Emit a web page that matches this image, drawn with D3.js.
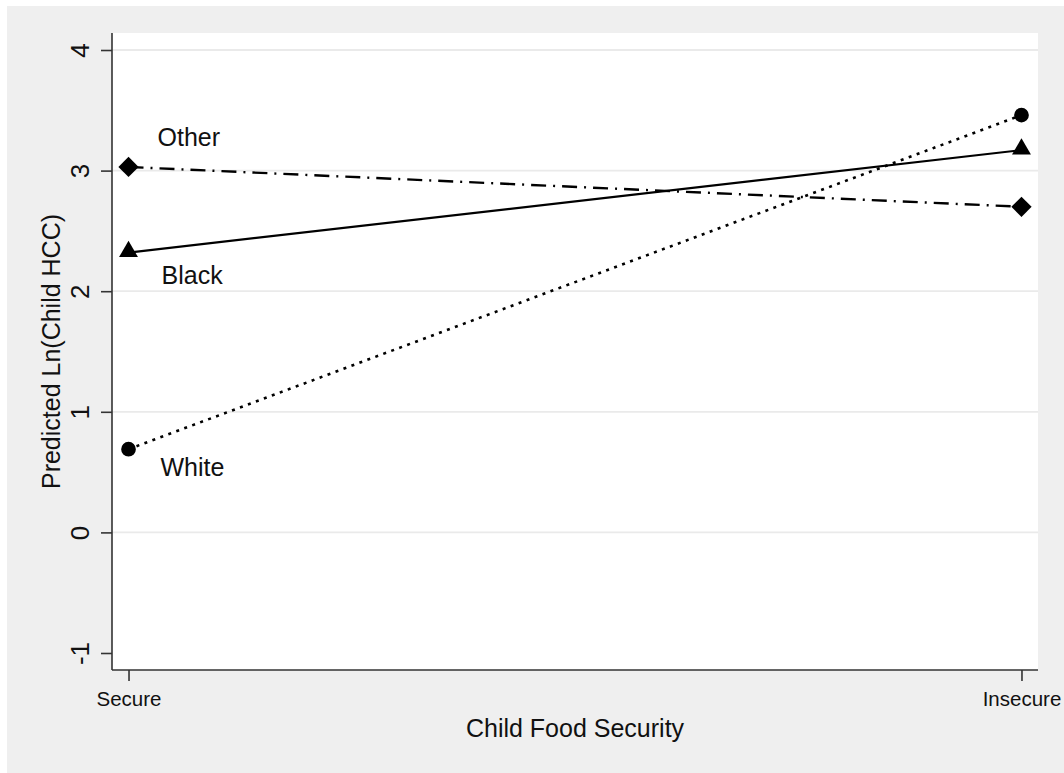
<!DOCTYPE html>
<html>
<head>
<meta charset="utf-8">
<script src="https://cdn.jsdelivr.net/npm/d3@7"></script>
<style>
  body { margin: 0; background: #fff; }
  text { font-family: "Liberation Sans", Arial, sans-serif; fill: #111; }
</style>
</head>
<body>
<svg width="1064" height="773"></svg>
<script>
// categories on the x axis
var foodSecurity = ["Secure", "Insecure"];
// predicted Ln(child HCC) by race
var white = [0.69, 3.46];
var black = [2.32, 3.17];
var other = [3.03, 2.70];
var yTicks = [-1, 0, 1, 2, 3, 4];
var gridTicks = [0, 1, 2, 3, 4];

var series = [
  {name: "White", values: white, dash: "3,5.5", width: 2.6, marker: d3.symbolCircle, size: 170, rot: 0, lx: 32, ly: 27},
  {name: "Black", values: black, dash: null, width: 2.2, marker: d3.symbolTriangle, size: 155, rot: 0, lx: 33, ly: 31},
  {name: "Other", values: other, dash: "15,7,2,7", width: 2.4, marker: d3.symbolSquare, size: 205, rot: 45, lx: 29, ly: -21}
];

var svg = d3.select("svg");
var margin = {top: 33, left: 112, right: 26, bottom: 103};
var width = +svg.attr("width") - margin.left - margin.right;
var height = +svg.attr("height") - margin.top - margin.bottom;

// outer gray graph region
svg.append("rect")
    .attr("x", 7).attr("y", 6)
    .attr("width", 1064 - 7).attr("height", 773 - 6)
    .attr("fill", "#efefef");

var container = svg.append("g")
    .attr("transform", "translate(" + margin.left + "," + margin.top + ")");

container.append("rect")
    .attr("width", width).attr("height", height)
    .attr("fill", "#fff");

var x = d3.scalePoint().domain(foodSecurity).range([0, width]).padding(0.0185);
var y = d3.scaleLinear().domain([-1.141, 4.141]).range([height, 0]);

// grid lines
container.selectAll(".grid").data(gridTicks)
  .enter().append("line")
    .attr("class", "grid")
    .attr("x1", 0).attr("x2", width)
    .attr("y1", function(d) { return y(d); })
    .attr("y2", function(d) { return y(d); })
    .attr("stroke", "#eaeaea")
    .attr("stroke-width", 1.8);

// lines
var line = d3.line()
    .x(function(d, i) { return x(foodSecurity[i]); })
    .y(function(d) { return y(d); });

series.forEach(function(s) {
  container.append("path")
      .datum(s.values)
      .attr("d", line)
      .attr("fill", "none")
      .attr("stroke", "#000")
      .attr("stroke-width", s.width)
      .attr("stroke-dasharray", s.dash);

  container.selectAll(".m-" + s.name).data(s.values)
    .enter().append("path")
      .attr("class", "m-" + s.name)
      .attr("d", d3.symbol().type(s.marker).size(s.size))
      .attr("transform", function(d, i) {
        var dy = s.marker === d3.symbolTriangle ? -1 : 0;
        return "translate(" + x(foodSecurity[i]) + "," + (y(d) + dy) + ") rotate(" + s.rot + ")";
      })
      .attr("fill", "#000");

  // label next to the Secure point
  container.append("text")
      .attr("x", x(foodSecurity[0]) + s.lx)
      .attr("y", y(s.values[0]) + s.ly)
      .style("font-size", "25px")
      .text(s.name);
});

// Y axis
var yAxis = container.append("g")
    .attr("class", "y_axis")
    .call(d3.axisLeft(y).tickValues(yTicks).tickSize(11).tickFormat(function(d) { return String(d); }));
yAxis.select(".domain").attr("d", "M0,0V" + height).attr("stroke", "#333").attr("stroke-width", 1.6);
yAxis.selectAll(".tick line").attr("stroke", "#333").attr("stroke-width", 1.6);
yAxis.selectAll(".tick text")
    .attr("x", 0).attr("dy", 0)
    .attr("transform", "translate(-23,0) rotate(-90)")
    .attr("text-anchor", "middle")
    .attr("fill", "#111")
    .style("font-size", "26px")
    .style("font-family", "Liberation Sans, Arial, sans-serif");

// X axis
var xAxis = container.append("g")
    .attr("class", "x_axis")
    .attr("transform", "translate(0," + height + ")")
    .call(d3.axisBottom(x).tickSize(11));
xAxis.select(".domain").attr("d", "M0,0H" + width).attr("stroke", "#333").attr("stroke-width", 1.6);
xAxis.selectAll(".tick line").attr("stroke", "#333").attr("stroke-width", 1.6);
xAxis.selectAll(".tick text")
    .attr("y", 36).attr("dy", 0)
    .attr("fill", "#111")
    .style("font-size", "20.5px")
    .style("font-family", "Liberation Sans, Arial, sans-serif");

// axis titles
container.append("text")
    .attr("x", width / 2)
    .attr("y", height + 67)
    .attr("text-anchor", "middle")
    .style("font-size", "25px")
    .text("Child Food Security");

container.append("text")
    .attr("transform", "translate(" + (60 - margin.left) + "," + (height / 2) + ") rotate(-90)")
    .attr("text-anchor", "middle")
    .style("font-size", "25px")
    .text("Predicted Ln(Child HCC)");
</script>
</body>
</html>
